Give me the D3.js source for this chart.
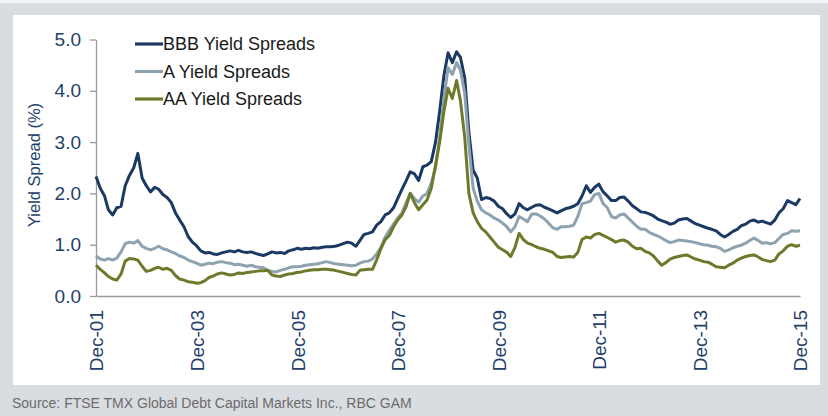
<!DOCTYPE html>
<html>
<head>
<meta charset="utf-8">
<script src="https://cdn.jsdelivr.net/npm/d3@7"></script>
<style>
  html, body { margin: 0; padding: 0; background: #ffffff; }
  svg { display: block; font-family: "Liberation Sans", Arial, sans-serif; }
</style>
</head>
<body>
<svg id="chart" width="828" height="416"></svg>
<script>
// Monthly observations, Dec 2001 .. Dec 2015 (169 points each)
const startMonth = "2001-12";
const bbbSpreads = [
  2.33,2.10,1.95,1.68,1.58,1.72,1.75,2.15,2.35,2.50,2.78,2.30,
  2.15,2.03,2.12,2.08,1.98,1.92,1.82,1.62,1.48,1.35,1.16,1.05,
  0.98,0.88,0.84,0.85,0.82,0.81,0.84,0.86,0.88,0.86,0.89,0.86,
  0.85,0.86,0.83,0.81,0.79,0.82,0.86,0.84,0.85,0.83,0.88,0.90,
  0.93,0.91,0.93,0.92,0.94,0.93,0.95,0.96,0.96,0.97,0.99,1.02,
  1.05,1.03,0.97,1.08,1.20,1.22,1.25,1.38,1.45,1.58,1.62,1.72,
  1.90,2.08,2.25,2.42,2.38,2.25,2.52,2.55,2.62,3.00,3.60,4.30,
  4.74,4.55,4.76,4.65,4.25,3.20,2.45,2.30,1.88,1.92,1.90,1.85,
  1.75,1.70,1.60,1.53,1.60,1.80,1.72,1.68,1.73,1.77,1.78,1.73,
  1.70,1.66,1.62,1.66,1.70,1.72,1.75,1.80,1.95,2.15,2.02,2.12,
  2.18,2.03,1.95,1.86,1.86,1.92,1.93,1.85,1.76,1.70,1.64,1.63,
  1.60,1.56,1.50,1.47,1.44,1.40,1.42,1.48,1.50,1.51,1.46,1.41,
  1.38,1.35,1.32,1.30,1.27,1.20,1.15,1.20,1.26,1.30,1.37,1.40,
  1.46,1.48,1.44,1.46,1.43,1.40,1.48,1.62,1.70,1.86,1.82,1.78,
  1.90
];
const aSpreads = [
  0.78,0.72,0.70,0.73,0.70,0.74,0.86,1.02,1.05,1.03,1.08,0.97,
  0.93,0.90,0.93,0.97,0.92,0.90,0.86,0.83,0.78,0.75,0.70,0.67,
  0.64,0.60,0.62,0.64,0.63,0.66,0.67,0.65,0.64,0.61,0.62,0.60,
  0.58,0.60,0.57,0.56,0.55,0.50,0.48,0.47,0.50,0.52,0.55,0.57,
  0.57,0.58,0.60,0.61,0.62,0.63,0.65,0.67,0.65,0.63,0.62,0.61,
  0.60,0.59,0.60,0.64,0.67,0.68,0.72,0.82,0.95,1.15,1.28,1.40,
  1.52,1.62,1.82,2.00,1.90,1.83,1.95,2.00,2.20,2.50,3.10,3.85,
  4.45,4.32,4.55,4.40,3.95,2.95,2.10,1.85,1.68,1.62,1.58,1.52,
  1.48,1.42,1.35,1.25,1.35,1.55,1.50,1.45,1.60,1.60,1.56,1.50,
  1.42,1.33,1.30,1.35,1.35,1.36,1.38,1.55,1.80,1.82,1.85,1.98,
  2.00,1.80,1.72,1.55,1.52,1.58,1.60,1.52,1.44,1.36,1.30,1.30,
  1.24,1.20,1.17,1.13,1.08,1.04,1.06,1.09,1.08,1.07,1.06,1.04,
  1.02,1.00,0.99,0.97,0.96,0.93,0.87,0.90,0.94,0.97,0.99,1.03,
  1.08,1.13,1.08,1.03,1.04,1.02,1.04,1.12,1.20,1.22,1.27,1.26,
  1.27
];
const aaSpreads = [
  0.60,0.52,0.45,0.38,0.33,0.31,0.43,0.68,0.73,0.72,0.70,0.58,
  0.48,0.50,0.54,0.56,0.52,0.54,0.50,0.40,0.33,0.31,0.28,0.27,
  0.25,0.26,0.30,0.36,0.39,0.43,0.45,0.43,0.41,0.42,0.45,0.44,
  0.46,0.47,0.48,0.49,0.49,0.50,0.41,0.39,0.38,0.41,0.43,0.44,
  0.46,0.47,0.49,0.50,0.51,0.51,0.52,0.52,0.51,0.50,0.48,0.46,
  0.44,0.42,0.41,0.50,0.51,0.52,0.52,0.70,0.92,1.10,1.18,1.35,
  1.48,1.58,1.75,2.00,1.82,1.68,1.78,1.87,2.10,2.55,3.00,3.60,
  4.05,3.85,4.20,3.80,3.10,2.00,1.62,1.45,1.32,1.25,1.15,1.05,
  0.95,0.90,0.85,0.77,0.95,1.22,1.10,1.03,1.00,0.96,0.93,0.91,
  0.88,0.85,0.77,0.75,0.76,0.77,0.76,0.85,1.10,1.15,1.13,1.20,
  1.22,1.18,1.14,1.10,1.05,1.08,1.09,1.05,0.97,0.92,0.93,0.87,
  0.84,0.78,0.68,0.60,0.65,0.72,0.75,0.77,0.79,0.80,0.76,0.72,
  0.70,0.67,0.66,0.62,0.57,0.56,0.55,0.60,0.64,0.70,0.74,0.77,
  0.79,0.80,0.76,0.71,0.69,0.67,0.70,0.82,0.88,0.97,1.00,0.97,
  0.99
];
const seriesNames = ["BBB Yield Spreads", "A Yield Spreads", "AA Yield Spreads"];
const seriesColors = ["#1b3a63", "#8ea2b0", "#6d7a2c"];
const yTicks = [0, 1, 2, 3, 4, 5];
const xTickLabels = ["Dec-01","Dec-03","Dec-05","Dec-07","Dec-09","Dec-11","Dec-13","Dec-15"];
const yTitle = "Yield Spread (%)";
const sourceText = "Source: FTSE TMX Global Debt Capital Markets Inc., RBC GAM";

const svg = d3.select("#chart");
const W = 828, H = 416;

// background frame
svg.append("rect").attr("x", 0).attr("y", 0).attr("width", W).attr("height", H).attr("fill", "#d9dde1");
svg.append("rect").attr("x", 0).attr("y", 0).attr("width", W).attr("height", 3).attr("fill", "#f3f4f5");
svg.append("rect").attr("x", 13).attr("y", 15).attr("width", 807).attr("height", 370).attr("fill", "#ffffff");

const parseMonth = d3.timeParse("%Y-%m");
const t0 = parseMonth(startMonth);
const dates = bbbSpreads.map((_, i) => d3.timeMonth.offset(t0, i));

const x = d3.scaleTime().domain([dates[0], dates[dates.length - 1]]).range([96, 800]);
const y = d3.scaleLinear().domain([0, 5]).range([296, 39.5]);

const navy = "#233f6a";

// Y axis
const yAxis = svg.append("g").attr("transform", "translate(96,0)")
  .call(d3.axisLeft(y).tickValues(yTicks).tickFormat(d3.format(".1f")).tickSize(6).tickSizeOuter(0).tickPadding(9));
yAxis.select(".domain").attr("stroke", "#9a9a9a").attr("stroke-width", 1.3);
yAxis.selectAll(".tick line").attr("stroke", "#9a9a9a").attr("stroke-width", 1.3);
yAxis.selectAll(".tick text").attr("fill", navy).style("font-size", "19px");

// X axis
const xTickDates = xTickLabels.map(s => d3.timeParse("%b-%y")(s));
const xAxis = svg.append("g").attr("transform", "translate(0,296)")
  .call(d3.axisBottom(x).tickValues(xTickDates).tickFormat(d3.timeFormat("Dec-%y")).tickSize(0).tickSizeOuter(0));
xAxis.select(".domain").attr("stroke", "#9a9a9a").attr("stroke-width", 1.3);
xAxis.selectAll(".tick text")
  .attr("fill", navy)
  .style("font-size", "19px")
  .attr("transform", "rotate(-90)")
  .attr("x", -14)
  .attr("y", 0)
  .attr("dy", "0.36em")
  .attr("text-anchor", "end");

// Y title
svg.append("text")
  .attr("transform", "translate(40,165) rotate(-90)")
  .attr("text-anchor", "middle")
  .attr("fill", navy)
  .style("font-size", "16.5px")
  .text(yTitle);

// Lines
const line = d3.line().x((d, i) => x(dates[i])).y(d => y(d));
const allSeries = [bbbSpreads, aSpreads, aaSpreads];
// draw in order: BBB, A, AA (AA on top)
allSeries.forEach((s, k) => {
  svg.append("path")
    .datum(s)
    .attr("fill", "none")
    .attr("stroke", seriesColors[k])
    .attr("stroke-width", 3)
    .attr("stroke-linejoin", "round")
    .attr("d", line);
});

// Legend
const legend = svg.append("g");
seriesNames.forEach((name, k) => {
  const ly = 44 + k * 27.5;
  legend.append("line").attr("x1", 135).attr("x2", 163).attr("y1", ly).attr("y2", ly)
    .attr("stroke", seriesColors[k]).attr("stroke-width", 3.2);
  legend.append("text").attr("x", 163).attr("y", ly).attr("dy", "0.35em")
    .attr("fill", "#1a1a1a").style("font-size", "18px").text(name);
});

// Source
svg.append("text").attr("x", 12).attr("y", 408)
  .attr("fill", "#6b6b6b").style("font-size", "14px").text(sourceText);
</script>
</body>
</html>
